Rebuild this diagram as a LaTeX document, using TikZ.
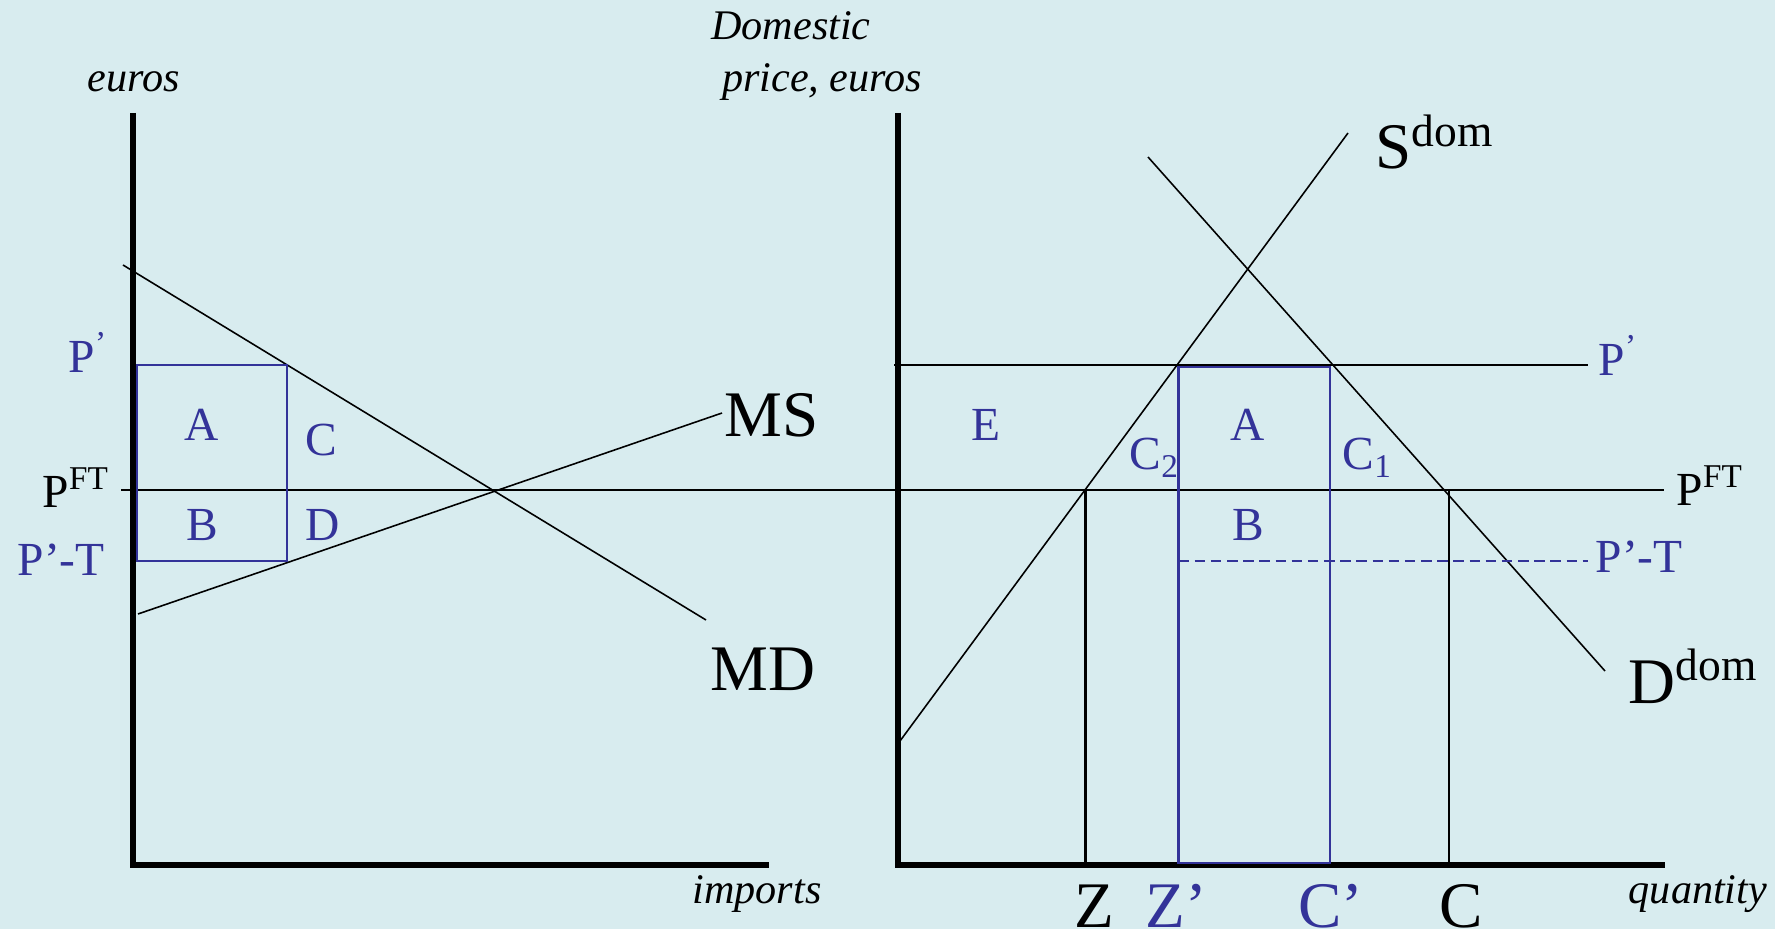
\documentclass[tikz,border=0pt]{standalone}
\usepackage{fontspec}
\setmainfont{Liberation Serif}
\usepackage{xcolor}
\usepackage{tikz}
\usetikzlibrary{positioning}
\definecolor{slidebg}{RGB}{216,236,239}
\definecolor{tariffblue}{RGB}{51,51,153}

\begin{document}
\begin{tikzpicture}[
  axisline/.style={line width=1.5pt},
  curve/.style={line width=0.45pt},
  bluebox/.style={draw=tariffblue, line width=0.65pt},
  areatag/.style={font=\fontsize{13.5}{16}\selectfont, text=tariffblue, inner sep=0pt},
  bigtag/.style={font=\fontsize{18.5}{22}\selectfont, inner sep=0pt},
  axistag/.style={font=\fontsize{12}{14}\selectfont\itshape, inner sep=0pt, anchor=base}
]
  % Background
  \fill[slidebg] (0,0) rectangle (17.75,9.29);
  \useasboundingbox (0,0) rectangle (17.75,9.29);

  % Axes
  \coordinate (ltop) at (1.33,8.16);
  \coordinate (lorig) at (1.33,0.64);
  \coordinate (lend) at (7.69,0.64);
  \coordinate (rtop) at (8.98,8.16);
  \coordinate (rorig) at (8.98,0.64);
  \coordinate (rend) at (16.65,0.64);
  \draw[axisline] (ltop) -- (lorig) -- (lend);
  \draw[axisline] (rtop) -- (rorig) -- (rend);

  \node[axistag] (euros) at (1.34,8.37) {euros};
  \node[axistag] (dom1) at (7.91,8.89) {Domestic};
  \node[axistag] (dom2) at (8.22,8.37) {price, euros};
  \node[axistag] (imports) at (7.57,0.26) {imports};
  \node[axistag] (quantity) at (16.98,0.26) {quantity};

  % Import market
  \coordinate (md1) at (1.23,6.64);
  \coordinate (md2) at (7.06,3.09);
  \coordinate (ms1) at (1.38,3.15);
  \coordinate (ms2) at (7.22,5.16);
  \draw[curve] (md1) -- (md2);
  \draw[curve] (ms1) -- (ms2);
  \node[bigtag, anchor=base west] (MS) at (7.24,4.92) {MS};
  \node[bigtag, anchor=base west] (MD) at (7.10,2.39) {MD};

  % Free trade price
  \coordinate (pft1) at (1.21,4.39);
  \coordinate (pft2) at (16.64,4.39);
  \draw[curve] (pft1) -- (pft2);

  \draw[bluebox] (1.37,5.64) rectangle (2.87,3.68);

  \node[areatag, anchor=base west] (lP) at (0.68,5.56) {P\textsuperscript{’}};
  \node[anchor=base west, inner sep=0pt, font=\fontsize{13.5}{16}\selectfont] (lPFT) at (0.42,4.21) {P\textsuperscript{FT}};
  \node[areatag, anchor=base west] (lPT) at (0.17,3.54) {P’-T};
  \foreach \x/\y/\t in {2.02/5.04/A, 3.21/4.89/C, 2.02/4.04/B, 3.23/4.04/D} {
    \node[areatag] at (\x,\y) {\t};
  }

  % Domestic market
  \coordinate (s1) at (9.00,1.88);
  \coordinate (s2) at (13.48,7.96);
  \coordinate (d1) at (11.48,7.72);
  \coordinate (d2) at (16.05,2.58);
  \draw[curve] (s1) -- (s2);
  \draw[curve] (d1) -- (d2);
  \node[bigtag, anchor=base west] (Sdom) at (13.75,7.60) {S\textsuperscript{dom}};
  \node[bigtag, anchor=base west] (Ddom) at (16.28,2.26) {D\textsuperscript{dom}};

  \coordinate (pp1) at (8.94,5.64);
  \coordinate (pp2) at (15.88,5.64);
  \draw[curve] (pp1) -- (pp2);
  \coordinate (pt1) at (11.785,3.68);
  \coordinate (pt2) at (15.88,3.68);
  \draw[tariffblue, line width=0.45pt, dash pattern=on 3pt off 1.6pt] (pt1) -- (pt2);

  \draw[curve, line width=0.6pt] (10.855,4.39) rectangle (14.49,0.64);
  \draw[bluebox] (11.785,5.62) rectangle (13.30,0.66);

  \node[areatag, anchor=base west] (rP) at (15.98,5.53) {P\textsuperscript{’}};
  \node[anchor=base west, inner sep=0pt, font=\fontsize{13.5}{16}\selectfont] (rPFT) at (16.76,4.23) {P\textsuperscript{FT}};
  \node[areatag, anchor=base west] (rPT) at (15.95,3.56) {P’-T};
  \foreach \x/\y/\t in {9.86/5.04/E, 12.48/5.04/A, 12.48/4.04/B} {
    \node[areatag] at (\x,\y) {\t};
  }
  \node[areatag, anchor=base west] (C2) at (11.29,4.59) {C\textsubscript{2}};
  \node[areatag, anchor=base west] (C1) at (13.42,4.59) {C\textsubscript{1}};

  % Quantities
  \node[bigtag, anchor=base] (Z) at (10.94,0.02) {Z};
  \node[bigtag, anchor=base, text=tariffblue] (Zp) at (11.76,0.02) {Z’};
  \node[bigtag, anchor=base, text=tariffblue] (Cp) at (13.31,0.02) {C’};
  \node[bigtag, anchor=base] (C) at (14.61,0.02) {C};
\end{tikzpicture}
\end{document}
